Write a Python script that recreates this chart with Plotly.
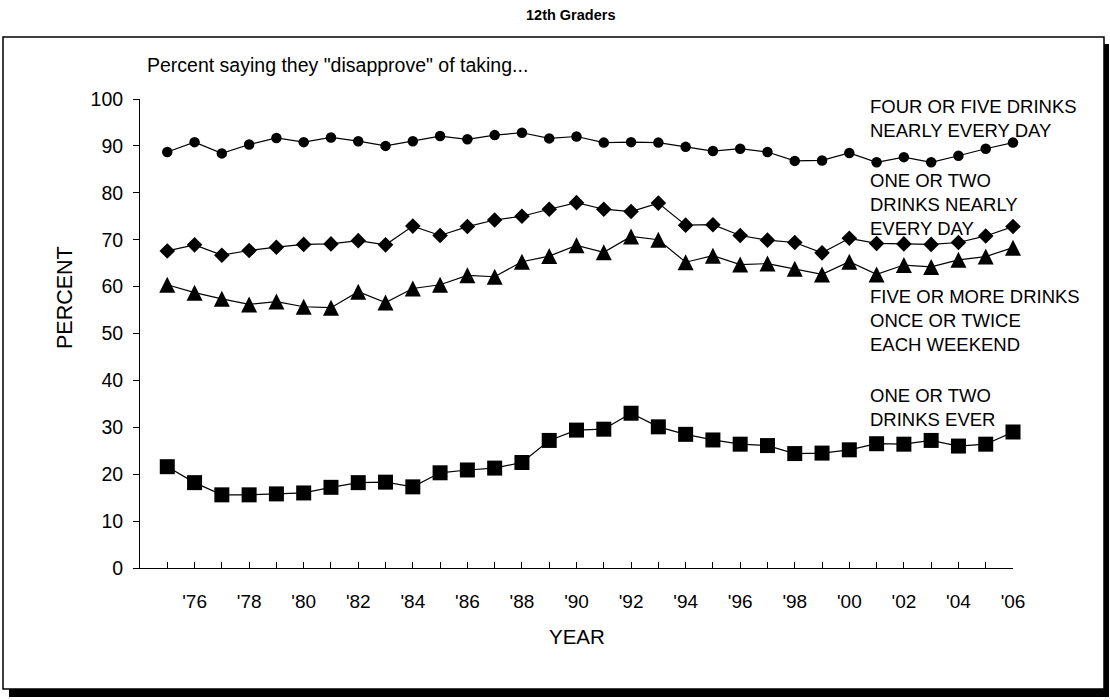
import plotly.graph_objects as go

years = list(range(1975, 2007))
four_five_daily = [88.7, 90.8, 88.4, 90.3, 91.7, 90.8, 91.8, 91.0, 90.0, 91.0, 92.1, 91.4, 92.3, 92.8, 91.6, 92.0,
                   90.7, 90.8, 90.7, 89.8, 88.9, 89.4, 88.7, 86.8, 86.9, 88.5, 86.5, 87.6, 86.5, 87.9, 89.4, 90.7]
one_two_daily = [67.6, 68.9, 66.7, 67.7, 68.4, 69.0, 69.1, 69.8, 68.9, 72.9, 70.9, 72.8, 74.2, 75.0, 76.5, 77.9,
                 76.5, 76.0, 77.8, 73.1, 73.2, 70.9, 69.9, 69.4, 67.2, 70.3, 69.2, 69.1, 69.0, 69.4, 70.8, 72.8]
five_weekend = [60.4, 58.7, 57.4, 56.2, 56.8, 55.7, 55.5, 58.9, 56.6, 59.6, 60.4, 62.4, 62.1, 65.3, 66.5, 68.8,
                67.3, 70.7, 70.0, 65.2, 66.6, 64.7, 64.9, 63.8, 62.6, 65.3, 62.6, 64.6, 64.2, 65.7, 66.4, 68.3]
one_two_ever = [21.6, 18.2, 15.6, 15.6, 15.8, 16.0, 17.2, 18.2, 18.3, 17.3, 20.3, 20.9, 21.3, 22.5, 27.2, 29.4,
                29.6, 33.0, 30.1, 28.5, 27.3, 26.4, 26.1, 24.4, 24.5, 25.2, 26.5, 26.4, 27.2, 26.0, 26.4, 29.0]
x_tick_labels = ["'%02d" % (y % 100) if y % 2 == 0 else "" for y in years]
y_ticks = list(range(0, 101, 10))

series_labels = [
    "FOUR OR FIVE DRINKS<br>NEARLY EVERY DAY",
    "ONE OR TWO<br>DRINKS NEARLY<br>EVERY DAY",
    "FIVE OR MORE DRINKS<br>ONCE OR TWICE<br>EACH WEEKEND",
    "ONE OR TWO<br>DRINKS EVER",
]

FONT = "Liberation Sans, Arial, sans-serif"
W, H = 1110, 700
L, R, T, B = 140, 1013, 99, 568


def px(x):
    return (x - L) / (R - L)


def py(y):
    return (B - y) / (B - T)


fig = go.Figure()
line = dict(color="black", width=1.2)
fig.add_trace(go.Scatter(x=years, y=four_five_daily, mode="lines+markers", line=line,
                         marker=dict(symbol="circle", size=10.5, color="black"), cliponaxis=False))
fig.add_trace(go.Scatter(x=years, y=one_two_daily, mode="lines+markers", line=line,
                         marker=dict(symbol="diamond", size=12, color="black"), cliponaxis=False))
fig.add_trace(go.Scatter(x=years, y=five_weekend, mode="lines+markers", line=line,
                         marker=dict(symbol="arrow-down", angle=180, standoff=8, size=16, color="black"),
                         cliponaxis=False))
fig.add_trace(go.Scatter(x=years, y=one_two_ever, mode="lines+markers", line=line,
                         marker=dict(symbol="square", size=15, color="black"), cliponaxis=False))

annotations = []
label_pos = [(868, 118), (868, 204), (868, 320), (868, 407)]
for txt, (lx, ly) in zip(series_labels, label_pos):
    annotations.append(dict(text=txt, x=px(lx), y=py(ly), xref="paper", yref="paper",
                            xanchor="left", yanchor="middle", align="left", showarrow=False,
                            font=dict(size=18.5, color="black", family=FONT)))
annotations.append(dict(text='Percent saying they "disapprove" of taking...', x=px(145), y=py(65),
                        xref="paper", yref="paper", xanchor="left", yanchor="middle", showarrow=False,
                        font=dict(size=19.5, color="black", family=FONT)))
annotations.append(dict(text="<b>12th Graders</b>", x=px(570), y=py(15), xref="paper", yref="paper",
                        xanchor="center", yanchor="middle", showarrow=False,
                        font=dict(size=14.5, color="black", family=FONT)))
annotations.append(dict(text="YEAR", x=px(577), y=py(636), xref="paper", yref="paper",
                        xanchor="center", yanchor="middle", showarrow=False,
                        font=dict(size=20.5, color="black", family=FONT)))
annotations.append(dict(text="PERCENT", x=px(65), y=py(298), xref="paper", yref="paper",
                        xanchor="center", yanchor="middle", showarrow=False, textangle=-90,
                        font=dict(size=21.5, color="black", family=FONT)))

shapes = [
    dict(type="rect", xref="paper", yref="paper", x0=px(1104), x1=px(1109), y0=py(44), y1=py(697),
         fillcolor="black", line=dict(width=0), layer="below"),
    dict(type="rect", xref="paper", yref="paper", x0=px(9), x1=px(1109), y0=py(689), y1=py(697),
         fillcolor="black", line=dict(width=0), layer="below"),
    dict(type="rect", xref="paper", yref="paper", x0=px(3), x1=px(1104), y0=py(37), y1=py(689),
         line=dict(color="black", width=1.5), layer="below"),
]

fig.update_layout(
    width=W, height=H,
    margin=dict(l=L, r=W - R, t=T, b=H - B),
    paper_bgcolor="white", plot_bgcolor="white",
    showlegend=False,
    hovermode=False,
    font=dict(family=FONT, color="black", size=19),
    annotations=annotations,
    shapes=shapes,
    xaxis=dict(range=[1974, 2006], tickmode="array", tickvals=years, ticktext=x_tick_labels,
               ticks="inside", ticklen=6, tickcolor="black", tickwidth=1,
               showline=True, linecolor="black", linewidth=1, showgrid=False, zeroline=False,
               ticklabelstandoff=16, tickfont=dict(size=19, family=FONT)),
    yaxis=dict(range=[0, 100], tickmode="array", tickvals=y_ticks,
               ticks="outside", ticklen=6, tickcolor="black", tickwidth=1,
               showline=True, linecolor="black", linewidth=1, showgrid=False, zeroline=False,
               ticklabelstandoff=6, tickfont=dict(size=19.5, family=FONT)),
)

fig.write_html("out.html", config={"displayModeBar": False},
               post_script="document.body.style.margin='0';")
